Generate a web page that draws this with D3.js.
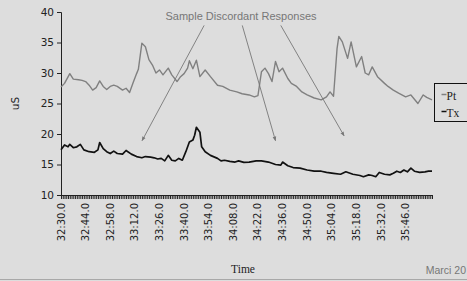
<!DOCTYPE html>
<html>
<head>
<meta charset="utf-8">
<script src="https://cdn.jsdelivr.net/npm/d3@7"></script>
<style>
  body { margin: 0; background: #dddddd; }
  svg { display: block; }
</style>
</head>
<body>
<svg id="svg" width="467" height="281"></svg>
<script>
// seconds after 32:30.0 for each reading, and the readings (uS)
const ptSec = [0,2,5,7,10,12,14,16,18,20,22,24,26,28,30,32,35,37,39,41,43,44,46,48,50,52,54,56,58,61,63,66,68,70,72,73,75,77,79,82,85,89,92,96,100,103,107,110,112,114,116,118,120,122,124,126,129,131,134,137,140,144,148,151,153,155,157,158,160,163,165,168,171,173,175,177,180,184,186,189,192,196,199,203,206,208,211];
const ptVal = [27.7,28.3,29.9,29.0,28.9,28.8,28.6,28.0,27.2,27.6,28.7,27.8,27.3,27.8,28.0,27.8,27.2,27.5,26.8,28.4,29.9,30.6,34.9,34.3,32.2,31.3,30.0,30.5,29.7,30.8,29.7,28.6,29.4,29.9,30.8,32.0,30.7,32.1,29.4,30.5,29.4,28.0,27.8,27.2,26.9,26.6,26.4,26.1,26.3,30.2,30.8,29.9,28.6,31.9,30.2,30.8,29.1,28.3,27.8,26.9,26.4,25.9,25.6,26.1,26.9,26.2,34.0,36.0,35.1,32.4,35.1,31.0,32.7,30.0,29.7,31.0,29.4,28.3,27.8,27.2,26.7,26.1,26.4,25.0,26.4,26.0,25.6];

const txSec = [0,2,4,5,7,9,11,13,16,19,21,22,24,26,28,30,32,35,37,40,43,46,48,51,53,55,57,59,61,63,65,67,69,71,73,75,76,77,79,80,82,85,89,91,93,96,99,101,104,107,111,114,118,122,125,126,129,132,136,140,144,148,151,155,159,162,166,170,172,175,177,179,181,184,187,189,191,193,195,197,199,201,204,207,209,211];
const txVal = [17.4,18.2,17.9,18.3,17.75,17.9,18.3,17.4,17.1,17.0,17.4,18.6,17.6,17.1,16.8,17.2,16.8,16.7,17.3,16.7,16.3,16.1,16.3,16.2,16.1,15.9,16.0,15.6,16.5,15.7,15.6,16.0,15.7,17.1,18.7,19.0,19.8,21.1,20.3,17.9,17.1,16.5,16.0,15.6,15.7,15.5,15.4,15.6,15.35,15.4,15.6,15.6,15.4,15.0,14.9,15.4,14.8,14.5,14.4,14.1,13.9,13.9,13.7,13.55,13.4,13.8,13.4,13.2,13.0,13.3,13.2,13.0,13.7,13.4,13.3,13.55,13.9,13.7,14.1,13.8,14.4,13.9,13.7,13.8,13.9,13.9];

const tickLabels = ["32:30.0","32:44.0","32:58.0","33:12.0","33:26.0","33:40.0","33:54.0","34:08.0","34:22.0","34:36.0","34:50.0","35:04.0","35:18.0","35:32.0","35:46.0"];
const yTicks = [10,15,20,25,30,35,40];
const seriesNames = ["Pt","Tx"];
const seriesColors = ["#808080","#111111"];

const svg = d3.select("#svg");
const margin = ({top: 12, right: 35, bottom: 86, left: 61});
const W = +svg.attr("width"), H = +svg.attr("height");

const x = d3.scaleLinear()
  .domain([0, 211])
  .range([margin.left, W - margin.right]);

const y = d3.scaleLinear()
  .domain([10, 40])
  .range([H - margin.bottom, margin.top]);

// bottom frame line
svg.append("line")
  .attr("x1", 0).attr("x2", W)
  .attr("y1", 279.5).attr("y2", 279.5)
  .attr("stroke", "#a8a8a8");

// y axis
const yAxis = svg.append("g")
  .attr("transform", `translate(${margin.left},0)`)
  .call(d3.axisLeft(y).tickValues(yTicks).tickSize(4).tickPadding(3));
yAxis.selectAll("text")
  .attr("font-family", "DejaVu Sans")
  .attr("font-size", 10.5)
  .attr("fill", "#222");

// x axis: one tick per second, labels every 14 s
const xAxis = svg.append("g")
  .attr("transform", `translate(0,${y(10)})`)
  .call(d3.axisBottom(x).tickValues(d3.range(0, 212)).tickSize(4).tickFormat(""));

svg.append("g")
  .selectAll("text")
  .data(tickLabels)
  .enter()
  .append("text")
  .attr("transform", (d, i) => `translate(${x(i * 14)},${y(10) + 8}) rotate(-90)`)
  .attr("text-anchor", "end")
  .attr("dy", "0.35em")
  .attr("font-family", "DejaVu Sans")
  .attr("font-size", 10)
  .attr("fill", "#222")
  .text(d => d);

svg.selectAll(".domain, .tick line")
  .attr("stroke", "#222");

// y label
svg.append("text")
  .attr("transform", `translate(19,${(margin.top + y(10)) / 2}) rotate(-90)`)
  .attr("text-anchor", "middle")
  .attr("font-family", "DejaVu Sans")
  .attr("font-size", 10.5)
  .attr("fill", "#222")
  .text("uS");

// x label
svg.append("text")
  .attr("x", 243).attr("y", 273)
  .attr("text-anchor", "middle")
  .attr("font-family", "Liberation Serif")
  .attr("font-size", 11.5)
  .attr("fill", "#222")
  .text("Time");

svg.append("text")
  .attr("x", 466).attr("y", 274)
  .attr("text-anchor", "end")
  .attr("font-family", "Liberation Sans")
  .attr("font-size", 10.5)
  .attr("fill", "#777")
  .text("Marci 20");

// lines
const line = d3.line()
  .x(d => x(d[0]))
  .y(d => y(d[1]));

const series = [
  ptSec.map((s, i) => [s, ptVal[i]]),
  txSec.map((s, i) => [s, txVal[i]])
];

svg.selectAll(".series")
  .data(series)
  .enter()
  .append("path")
  .attr("fill", "none")
  .attr("stroke", (d, i) => seriesColors[i])
  .attr("stroke-width", (d, i) => i == 0 ? 1.4 : 1.7)
  .attr("stroke-linejoin", "round")
  .attr("d", line);

// annotation
svg.append("defs").append("marker")
  .attr("id", "arr")
  .attr("viewBox", "0 0 10 10")
  .attr("refX", 9).attr("refY", 5)
  .attr("markerWidth", 5).attr("markerHeight", 5)
  .attr("orient", "auto")
  .append("path")
  .attr("d", "M0,1 L10,5 L0,9 z")
  .attr("fill", "#777");

svg.append("text")
  .attr("x", 241).attr("y", 20)
  .attr("text-anchor", "middle")
  .attr("font-family", "Liberation Sans")
  .attr("font-size", 11)
  .attr("fill", "#777")
  .text("Sample Discordant Responses");

// arrow ends given as [start sec, start uS, end sec, end uS]
const arrows = [[81.4, 37.8, 46.1, 18.9], [103.1, 37.8, 122, 18.9], [125, 37.8, 161, 19.7]];
svg.selectAll(".arrow")
  .data(arrows)
  .enter()
  .append("line")
  .attr("x1", d => x(d[0])).attr("y1", d => y(d[1]))
  .attr("x2", d => x(d[2])).attr("y2", d => y(d[3]))
  .attr("stroke", "#777")
  .attr("stroke-width", 0.9)
  .attr("marker-end", "url(#arr)");

// legend
const lg = svg.append("g").attr("transform", "translate(434.5,83.5)");
lg.append("rect")
  .attr("width", 40).attr("height", 38)
  .attr("fill", "none")
  .attr("stroke", "#111");
seriesNames.forEach((n, i) => {
  lg.append("line")
    .attr("x1", 7).attr("x2", 12)
    .attr("y1", 11 + i * 17).attr("y2", 11 + i * 17)
    .attr("stroke", seriesColors[i])
    .attr("stroke-width", 1.5);
  lg.append("text")
    .attr("x", 12).attr("y", 16 + i * 17)
    .attr("font-family", "Liberation Serif")
    .attr("font-size", 11.5)
    .attr("fill", "#222")
    .text(n);
});
</script>
</body>
</html>
